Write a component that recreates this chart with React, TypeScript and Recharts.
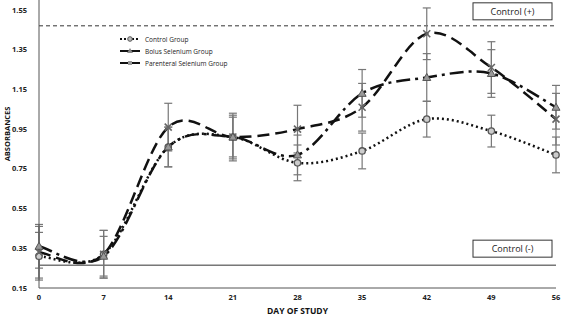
import { LineChart, Line, XAxis, YAxis, ReferenceLine, ErrorBar, Label } from 'recharts';

const days = [0, 7, 14, 21, 28, 35, 42, 49, 56];
const controlGroup = [0.31, 0.32, 0.86, 0.91, 0.78, 0.84, 1.0, 0.94, 0.82];
const controlErr = [0.12, 0.12, 0.1, 0.12, 0.09, 0.09, 0.09, 0.08, 0.09];
const bolusGroup = [0.33, 0.32, 0.96, 0.91, 0.95, 1.06, 1.43, 1.26, 1.0];
const bolusErr = [0.13, 0.12, 0.12, 0.11, 0.12, 0.12, 0.13, 0.13, 0.13];
const parenteralGroup = [0.36, 0.31, 0.86, 0.91, 0.82, 1.13, 1.21, 1.23, 1.06];
const parenteralErr = [0.11, 0.1, 0.1, 0.1, 0.1, 0.12, 0.12, 0.12, 0.11];
const yTicks = [0.15, 0.35, 0.55, 0.75, 0.95, 1.15, 1.35, 1.55];
const controlPlus = 1.47;
const controlMinus = 0.265;

const data = days.map((d, i) => ({
    day: d,
    control: controlGroup[i],
    controlErr: controlErr[i],
    bolus: bolusGroup[i],
    bolusErr: bolusErr[i],
    parenteral: parenteralGroup[i],
    parenteralErr: parenteralErr[i],
}));

const FONT = '"Open Sans", "Liberation Sans", sans-serif';

// Excel-like smooth line (Catmull-Rom through the points)
function smoothCurve(context: any) {
    let pts: number[][] = [];
    return {
        areaStart() {},
        areaEnd() {},
        lineStart() { pts = []; },
        point(x: number, y: number) { pts.push([+x, +y]); },
        lineEnd() {
            if (!pts.length) return;
            context.moveTo(pts[0][0], pts[0][1]);
            for (let i = 0; i < pts.length - 1; i++) {
                const p0 = pts[Math.max(i - 1, 0)];
                const p1 = pts[i];
                const p2 = pts[i + 1];
                const p3 = pts[Math.min(i + 2, pts.length - 1)];
                context.bezierCurveTo(
                    p1[0] + (p2[0] - p0[0]) / 6, p1[1] + (p2[1] - p0[1]) / 6,
                    p2[0] - (p3[0] - p1[0]) / 6, p2[1] - (p3[1] - p1[1]) / 6,
                    p2[0], p2[1]
                );
            }
        },
    };
}

const CircleDot = (props: any) => {
    const { cx, cy } = props;
    return <circle cx={cx} cy={cy} r={3.2} fill="#ccc" stroke="#555" strokeWidth={1.3} />;
};
const CrossDot = (props: any) => {
    const { cx, cy } = props;
    return (
        <g stroke="#666" strokeWidth={1.6}>
            <line x1={cx - 3.5} y1={cy - 3.5} x2={cx + 3.5} y2={cy + 3.5} />
            <line x1={cx - 3.5} y1={cy + 3.5} x2={cx + 3.5} y2={cy - 3.5} />
        </g>
    );
};
const TriDot = (props: any) => {
    const { cx, cy } = props;
    return <polygon points={`${cx},${cy - 4} ${cx - 4},${cy + 3} ${cx + 4},${cy + 3}`} fill="#999" stroke="#555" strokeWidth={1} />;
};

const BoxLabel = ({ viewBox, text, dy }: any) => {
    const right = viewBox.x + viewBox.width;
    const top = viewBox.y + dy;
    return (
        <g>
            <rect x={right - 83} y={top} width={79} height={17} fill="#fff" stroke="#333" strokeWidth={1} />
            <text x={right - 43.5} y={top + 12} textAnchor="middle" fontSize={9} fontFamily={FONT} fill="#222">{text}</text>
        </g>
    );
};

const legendItems = [
    { name: 'Control Group', dash: '2 2', marker: 'circle' },
    { name: 'Bolus Selenium Group', dash: '', marker: 'tri' },
    { name: 'Parenteral Selenium Group', dash: '', marker: 'cross' },
];

const LegendBox = () => (
    <svg width={130} height={34} style={{ position: 'absolute', left: 118, top: 34 }}>
        {legendItems.map((it, i) => {
            const y = 5 + i * 12;
            return (
                <g key={it.name}>
                    <line x1={2} y1={y} x2={22} y2={y} stroke="#111" strokeWidth={2} strokeDasharray={it.dash} />
                    {it.marker === 'circle' && <circle cx={12} cy={y} r={2.3} fill="#bbb" stroke="#555" />}
                    {it.marker === 'tri' && <polygon points={`12,${y - 3} 9,${y + 2} 15,${y + 2}`} fill="#888" />}
                    {it.marker === 'cross' && <rect x={10} y={y - 2} width={4} height={4} fill="#999" />}
                    <text x={27} y={y + 2.5} fontSize={6.5} fontFamily={FONT} fill="#222">{it.name}</text>
                </g>
            );
        })}
    </svg>
);

const YTitle = ({ viewBox }: any) => {
    const x = 7;
    const y = viewBox.y + viewBox.height / 2 - 10;
    return (
        <text x={x} y={y} transform={`rotate(-90 ${x} ${y})`} textAnchor="middle" dominantBaseline="central" fontSize={7.5} fontWeight={700} fill="#111" fontFamily={FONT}>
            ABSORBANCES
        </text>
    );
};

export default function App() {
    return (
        <div style={{ position: 'absolute', left: 0, top: 0, width: 567, height: 315, background: '#fff' }}>
            <LineChart width={567} height={315} data={data} margin={{ top: 0, right: 11, bottom: 0, left: 0 }}>
                <XAxis
                    dataKey="day"
                    type="number"
                    domain={[0, 56]}
                    ticks={days}
                    tickLine={false}
                    stroke="#555"
                    height={27}
                    tick={{ fontSize: 7.5, fontWeight: 700, fill: '#222', fontFamily: FONT }}
                    tickMargin={1}
                >
                    <Label value="DAY OF STUDY" position="insideBottom" offset={1} style={{ fontSize: 8.5, fontWeight: 700, fill: '#111', fontFamily: FONT }} />
                </XAxis>
                <YAxis
                    type="number"
                    domain={[0.15, 1.6]}
                    ticks={yTicks}
                    tickFormatter={(v: number) => v.toFixed(2)}
                    tickLine={false}
                    stroke="#555"
                    width={39}
                    tick={{ fontSize: 7.5, fontWeight: 700, fill: '#222', fontFamily: FONT }}
                    tickMargin={6}
                    allowDataOverflow
                >
                    <Label content={<YTitle />} />
                </YAxis>
                <ReferenceLine y={controlPlus} stroke="#333" strokeDasharray="4 3" strokeWidth={1} label={<BoxLabel text="Control (+)" dy={-23} />} />
                <ReferenceLine y={controlMinus} stroke="#333" strokeWidth={1} label={<BoxLabel text="Control (-)" dy={-25} />} />
                <Line dataKey="control" name="Control Group" type={smoothCurve as any} stroke="#111" strokeWidth={2.5} strokeDasharray="2 3" dot={<CircleDot />} activeDot={false} isAnimationActive={false}>
                    <ErrorBar dataKey="controlErr" direction="y" width={4} stroke="#777" strokeWidth={1.2} />
                </Line>
                <Line dataKey="bolus" name="Bolus Selenium Group" type={smoothCurve as any} stroke="#111" strokeWidth={2.5} strokeDasharray="12 6" dot={<CrossDot />} activeDot={false} isAnimationActive={false}>
                    <ErrorBar dataKey="bolusErr" direction="y" width={4} stroke="#777" strokeWidth={1.2} />
                </Line>
                <Line dataKey="parenteral" name="Parenteral Selenium Group" type={smoothCurve as any} stroke="#111" strokeWidth={2.5} strokeDasharray="14 5 3 5" dot={<TriDot />} activeDot={false} isAnimationActive={false}>
                    <ErrorBar dataKey="parenteralErr" direction="y" width={4} stroke="#777" strokeWidth={1.2} />
                </Line>
            </LineChart>
            <LegendBox />
        </div>
    );
}
